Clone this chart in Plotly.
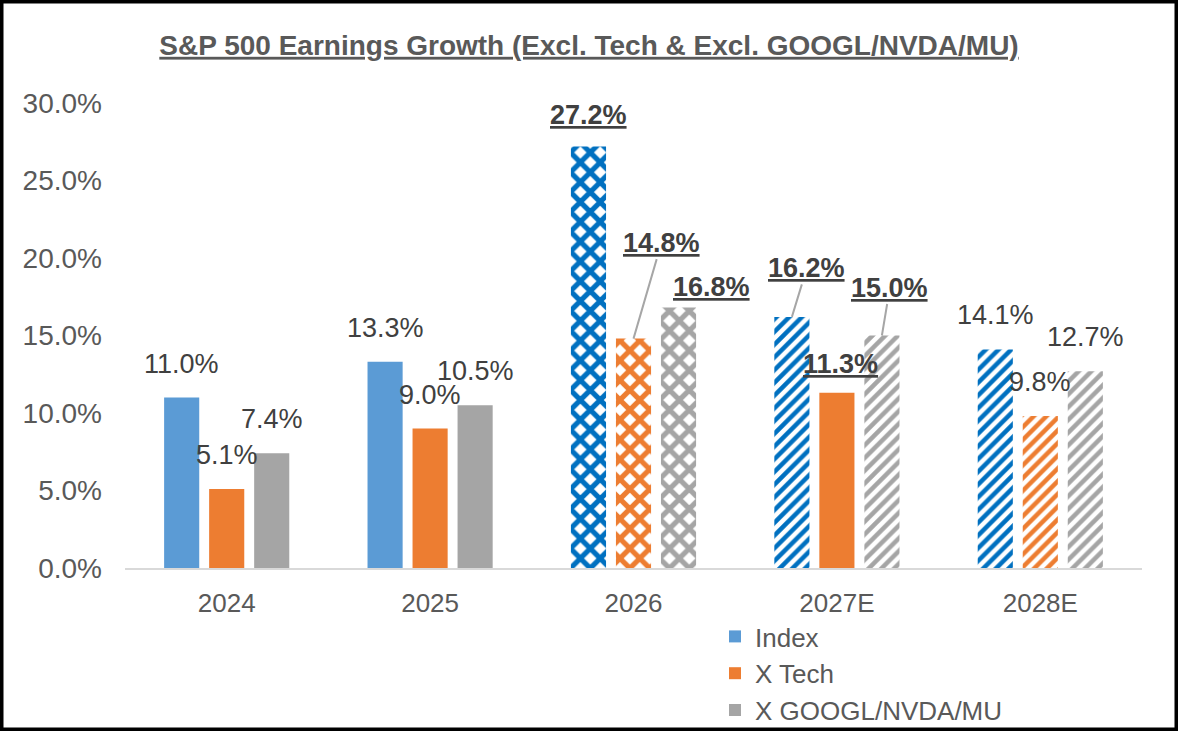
import plotly.graph_objects as go

years = ["2024", "2025", "2026", "2027E", "2028E"]
series_names = ["Index", "X Tech", "X GOOGL/NVDA/MU"]
index_growth = [11.0, 13.3, 27.2, 16.2, 14.1]
xtech_growth = [5.1, 9.0, 14.8, 11.3, 9.8]
xgoogl_growth = [7.4, 10.5, 16.8, 15.0, 12.7]
all_series = [index_growth, xtech_growth, xgoogl_growth]

# styling
W, H = 1178, 731
ML, MR, MT, MB = 125, 36, 103, 163
FONT = "Arial, Liberation Sans, sans-serif"
solid_colors = ["#5B9BD5", "#ED7D31", "#A5A5A5"]
pattern_colors = ["#0070C0", "#ED7D31", "#A5A5A5"]
pattern_shapes = [
    ["", "", "x", "/", "/"],
    ["", "", "x", "", "/"],
    ["", "", "x", "/", "/"],
]
shape_size = {"": 8, "x": 14, "/": 9}
shape_solidity = {"": 0.3, "x": 0.6, "/": 0.5}
slot = 45  # px between bars in a group

# label overrides (series, year) -> (dx px, up px, leader line)
label_offsets = {
    (0, 2): (0, 31, False),
    (1, 2): (28, 96, True),
    (2, 2): (33, 21, False),
    (0, 3): (15, 49, True),
    (1, 3): (4, 29, False),
    (2, 3): (8, 48, True),
}

fig = go.Figure()
for s, vals in enumerate(all_series):
    shapes = pattern_shapes[s]
    fg = [solid_colors[s] if sh == "" else pattern_colors[s] for sh in shapes]
    fig.add_trace(go.Bar(
        x=years, y=vals, name=series_names[s],
        marker=dict(
            color=solid_colors[s],
            line=dict(width=0),
            pattern=dict(
                shape=shapes,
                fillmode="replace",
                fgcolor=fg,
                bgcolor="white",
                size=[shape_size[sh] for sh in shapes],
                solidity=[shape_solidity[sh] for sh in shapes],
            ),
        ),
        hoverinfo="skip",
    ))

annotations = []
for s, vals in enumerate(all_series):
    for i, v in enumerate(vals):
        dx, up, leader = label_offsets.get((s, i), (0, 34, False))
        text = f"{v:.1f}%"
        if (s, i) in label_offsets:
            text = f"<b><u>{text}</u></b>"
        # x given as category index (year strings look numeric)
        ann = dict(x=i, y=v, text=text,
                   font=dict(family=FONT, size=27, color="#404040"))
        if leader:
            ann.update(xshift=(s - 1) * slot, ax=dx, ay=-up, showarrow=True,
                       arrowhead=0, arrowwidth=2, arrowcolor="#A6A6A6", standoff=0)
        else:
            ann.update(xshift=(s - 1) * slot + dx, yshift=up, showarrow=False,
                       yanchor="middle")
        annotations.append(ann)

pw = W - ML - MR
ph = H - MT - MB

fig.update_layout(
    width=W, height=H,
    margin=dict(l=ML, r=MR, t=MT, b=MB, autoexpand=False),
    paper_bgcolor="white", plot_bgcolor="white",
    barmode="group", bargap=0.336, bargroupgap=0.22,
    title=dict(text="<b><u>S&P 500 Earnings Growth (Excl. Tech & Excl. GOOGL/NVDA/MU)</u></b>",
               x=0.5, xref="container", xanchor="center",
               y=1 - 45 / H, yref="container", yanchor="middle",
               font=dict(family=FONT, size=28, color="#595959")),
    font=dict(family=FONT, color="#595959"),
    xaxis=dict(type="category", showline=True, linecolor="#D9D9D9", linewidth=2,
               ticks="", showgrid=False, tickfont=dict(size=26, color="#595959"),
               ticklabelstandoff=11),
    yaxis=dict(range=[0, 30], dtick=5, tickformat=".1f", ticksuffix="%",
               showgrid=False, zeroline=False, ticks="",
               tickfont=dict(size=28, color="#595959"), ticklabelstandoff=22),
    legend=dict(orientation="v", x=(715 - ML) / pw, y=(H - MB - 613) / ph,
                xanchor="left", yanchor="top",
                font=dict(size=26, color="#595959"), itemwidth=30,
                bgcolor="rgba(0,0,0,0)"),
    annotations=annotations,
    shapes=[dict(type="rect", xref="paper", yref="paper",
                 x0=-ML / pw, x1=1 + MR / pw, y0=-MB / ph, y1=1 + MT / ph,
                 line=dict(color="black", width=7))],
)

fig.write_html("out.html", config={"displayModeBar": False},
               post_script="document.body.style.margin='0';")
